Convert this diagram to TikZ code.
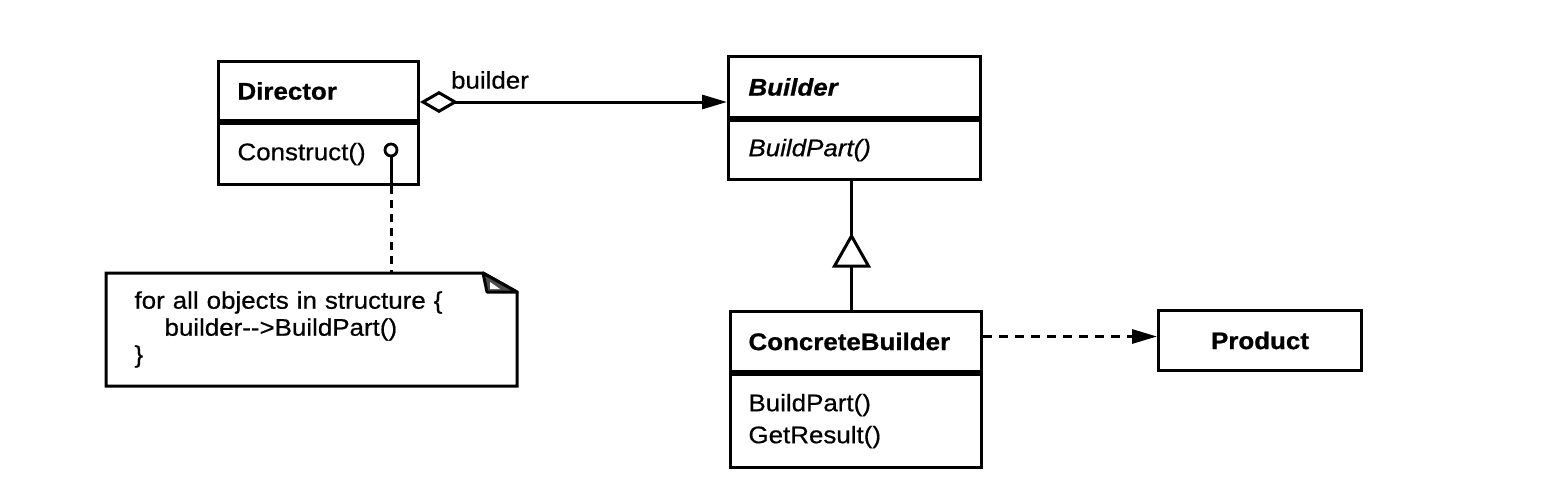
\documentclass[tikz,border=0pt]{standalone}
\usepackage{fontspec}
\setmainfont{Liberation Sans}[FakeStretch=1.08,
  UprightFeatures={FakeBold=0.6}, ItalicFeatures={FakeBold=0.6},
  BoldFeatures={FakeBold=0.8}, BoldItalicFeatures={FakeBold=0.8}]
\usetikzlibrary{arrows.meta,calc}
\begin{document}
\begin{tikzpicture}[x=1pt,y=-1pt,line width=3pt,
  every node/.style={font=\fontsize{24}{27}\selectfont},
  comp/.style={draw, anchor=north west, inner ysep=0pt, align=left},
  solidtip/.style={-{Triangle[length=25pt,width=14pt]}},
  aggtip/.style={{Diamond[open,length=38pt,width=22pt]}-{Triangle[length=25pt,width=14pt]}},
  dep/.style={dash pattern=on 9pt off 7pt},
  notedash/.style={dash pattern=on 8pt off 6pt},
]
\useasboundingbox (0,0) rectangle (1544,498);
\fill[white] (0,0) rectangle (1544,498);

% Director
\node[comp, inner xsep=19pt, text width=162pt, minimum height=59pt] (dirT) at (217,60) {\bfseries Director};
\node[comp, inner xsep=19pt, text width=162pt, minimum height=61pt] (dirM) at (dirT.south west) {Construct()};

% Builder
\node[comp, inner xsep=20pt, text width=212pt, minimum height=61pt] (bT) at (727,55) {\bfseries\itshape Builder};
\node[comp, inner xsep=20pt, text width=212pt, minimum height=59pt] (bM) at (bT.south west) {\itshape BuildPart()};

% ConcreteBuilder
\node[comp, inner xsep=18pt, text width=215pt, minimum height=60pt] (cbT) at (729,310) {\bfseries ConcreteBuilder};
\node[comp, inner xsep=18pt, text width=215pt, minimum height=93pt,
      font=\fontsize{24}{32}\selectfont] (cbM) at (cbT.south west) {BuildPart()\\GetResult()};

% Product
\node[draw, anchor=north west, inner sep=0pt, minimum width=203pt, minimum height=60pt] (pr) at (1157,309) {\bfseries Product};

% Note
\node[anchor=north west, inner xsep=27pt, inner ysep=0pt, text width=354pt, minimum height=110pt, align=left,
      font=\fontsize{24}{27}\selectfont] (note) at (106,273)
  {for all objects in structure \{\\\hspace*{30pt}builder-{}->BuildPart()\\\}};
\draw (note.north west) -- ([xshift=-34pt]note.north east) -- ([yshift=-19pt]note.north east)
      -- (note.south east) -- (note.south west) -- cycle;
\draw[fill=black!70, line join=round] ([xshift=-34pt]note.north east) -- ([yshift=-19pt]note.north east)
      -- ([xshift=-30pt,yshift=-19pt]note.north east) -- cycle;
\fill[white] ([xshift=-27pt,yshift=-9pt]note.north east) -- ([xshift=-27pt,yshift=-16pt]note.north east)
      -- ([xshift=-17pt,yshift=-16pt]note.north east) -- cycle;

% Construct() note anchor
\node[draw, circle, inner sep=0pt, minimum size=12pt, line width=2.8pt] (cpt) at (391,150) {};
\draw (cpt.south) -- (cpt.south |- dirM.south);
\draw[notedash] (cpt.south |- dirM.south) -- (cpt.south |- note.north);

% Aggregation Director -> Builder
\coordinate (aggS) at ([yshift=-11pt]dirT.east);
\draw[aggtip] (aggS) -- (aggS -| bT.west);
\node[anchor=center, inner sep=0pt] (lbl) at (490,80) {builder};

% Generalization ConcreteBuilder -> Builder
\coordinate (gtip) at ([xshift=-3pt,yshift=-55pt]bM.south);
\coordinate (gbase) at ([yshift=-30pt]gtip);
\draw ([xshift=-3pt]bM.south) -- (gtip);
\draw[fill=white, line join=miter] (gtip) -- ([xshift=-17pt]gbase) -- ([xshift=17pt]gbase) -- cycle;
\draw (gbase) -- (gbase |- cbT.north);

% Dependency ConcreteBuilder -> Product
\coordinate (depS) at ([yshift=5pt]cbT.east);
\draw[dep, solidtip] (depS) -- (depS -| pr.west);
\end{tikzpicture}
\end{document}
